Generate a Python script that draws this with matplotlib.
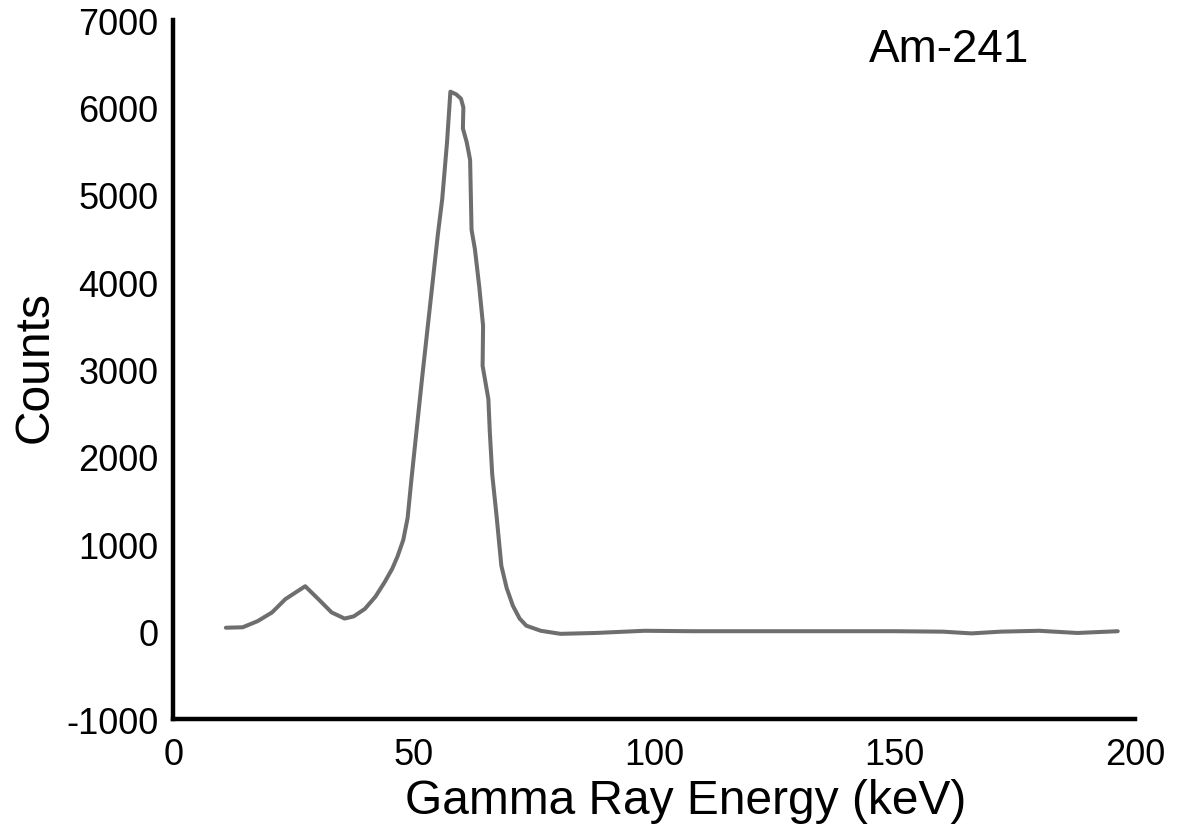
import matplotlib
matplotlib.use("Agg")
import matplotlib.pyplot as plt

plt.rcParams['font.family'] = ['Liberation Sans', 'DejaVu Sans']
plt.rcParams['axes.unicode_minus'] = False

energy_kev = [10.9, 14.4, 17.5, 20.5, 23.3, 27.4, 30.0, 32.9, 35.6, 37.5, 39.8, 42.0,
              43.9, 45.5, 46.6, 47.8, 48.7, 49.5, 51.7, 54.2, 55.0, 55.9, 56.9, 57.6,
              58.8, 59.8, 60.3, 60.2, 61.0, 61.7, 62.0, 62.7, 63.6, 64.4, 64.3, 65.5,
              65.8, 66.3, 67.2, 68.2, 69.3, 70.6, 72.0, 73.4, 76.4, 80.5, 87.8, 98.0,
              108.0, 130.0, 150.0, 160.0, 166.0, 172.0, 180.0, 188.0, 196.4]
counts = [45, 50, 120, 220, 373, 520, 380, 220, 150, 175, 260, 400,
          564, 720, 860, 1050, 1300, 1745, 2895, 4148, 4550, 4950, 5600, 6180,
          6150, 6100, 6000, 5760, 5600, 5400, 4600, 4378, 3950, 3500, 3043, 2662,
          2285, 1800, 1326, 754, 500, 296, 150, 68, 10, -25, -15, 10,
          5, 5, 5, 0, -20, 0, 10, -15, 5]

x_ticks = [0, 50, 100, 150, 200]
y_ticks = [-1000, 0, 1000, 2000, 3000, 4000, 5000, 6000, 7000]

fig = plt.figure(figsize=(12.02, 8.28), dpi=100)
ax = fig.add_axes([0.1443, 0.1304, 0.8000, 0.8442])

ax.plot(energy_kev, counts, color='#6e6e6e', linewidth=2.9, solid_joinstyle='round',
        solid_capstyle='round')

ax.set_xlim(0, 197.4)
ax.set_ylim(-1000, 7000)
ax.set_xticks(x_ticks)
ax.set_yticks(y_ticks)
ax.tick_params(axis='both', length=0, labelsize=26)
ax.tick_params(axis='y', pad=11)
ax.tick_params(axis='x', pad=13)
for lbl in ax.get_xticklabels():
    lbl.set_clip_on(False)

for s in ['top', 'right']:
    ax.spines[s].set_visible(False)
for s in ['left', 'bottom']:
    ax.spines[s].set_linewidth(3.2)
    ax.spines[s].set_color('black')

ax.set_xlabel('Gamma Ray Energy (keV)', fontsize=34.5, va='center')
ax.xaxis.set_label_coords(0.533, -0.116)
ax.set_ylabel('Counts', fontsize=34.5, va='center')
ax.yaxis.set_label_coords(-0.144, 0.505)

ax.text(0.790, 0.94, 'Am-241', transform=fig.transFigure, fontsize=33,
        ha='center', va='center')

fig.savefig('out.png', dpi=100)
